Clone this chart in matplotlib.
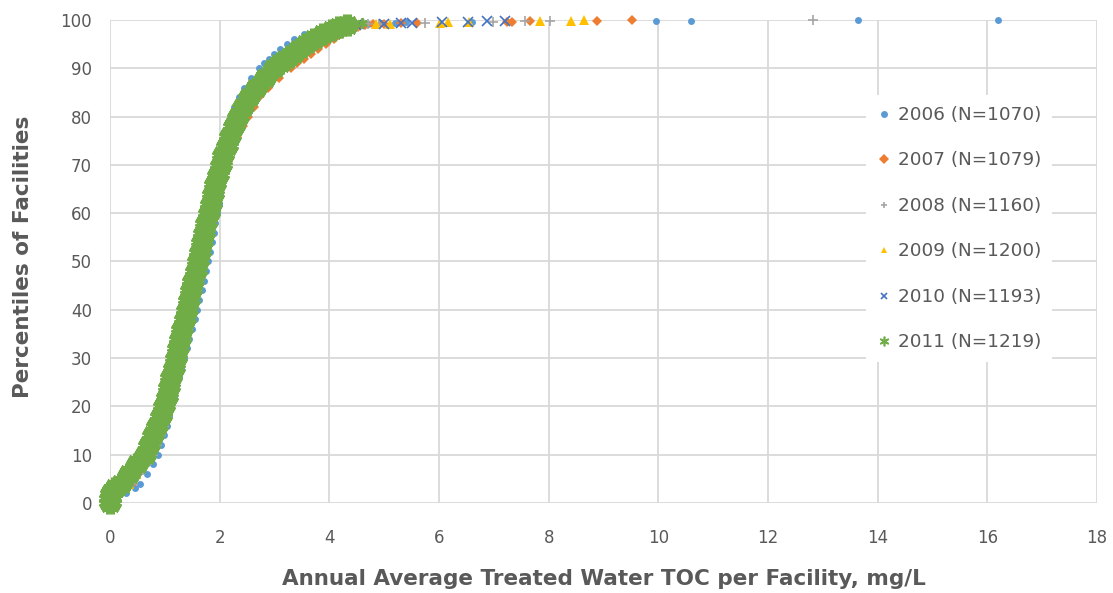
import matplotlib
matplotlib.use("Agg")
import matplotlib.pyplot as plt
from matplotlib.lines import Line2D

# percentile of facilities at which each TOC value is listed
PCT = [0, 1, 2, 3, 4, 6, 8, 10, 12, 14, 16, 18, 20, 22, 24, 26, 28, 30, 32, 34,
       36, 38, 40, 42, 44, 46, 48, 50, 52, 54, 56, 58, 60, 62, 64, 66, 68, 70,
       72, 74, 76, 78, 80, 82, 84, 86, 88, 90, 91, 92, 93, 94, 95, 96, 97, 98,
       98.5, 99]

# annual average treated water TOC (mg/L) at those percentiles
toc_2006 = [0.00, 0.10, 0.30, 0.45, 0.55, 0.68, 0.78, 0.87, 0.93, 0.99, 1.04, 1.08,
            1.12, 1.17, 1.21, 1.26, 1.30, 1.35, 1.40, 1.45, 1.50, 1.55, 1.59, 1.63,
            1.67, 1.71, 1.75, 1.79, 1.83, 1.86, 1.89, 1.92, 1.95, 1.98, 2.00, 2.03,
            2.05, 2.07, 2.10, 2.12, 2.14, 2.17, 2.20, 2.27, 2.35, 2.45, 2.57, 2.72,
            2.81, 2.90, 3.00, 3.10, 3.22, 3.36, 3.54, 3.80, 3.98, 4.22]
toc_2007 = [0.00, 0.05, 0.18, 0.30, 0.40, 0.52, 0.62, 0.72, 0.80, 0.87, 0.93, 0.99,
            1.05, 1.10, 1.14, 1.18, 1.22, 1.26, 1.30, 1.34, 1.38, 1.42, 1.46, 1.50,
            1.54, 1.58, 1.62, 1.66, 1.70, 1.74, 1.78, 1.82, 1.86, 1.90, 1.94, 1.99,
            2.04, 2.09, 2.15, 2.22, 2.31, 2.42, 2.52, 2.62, 2.72, 2.88, 3.08, 3.30,
            3.42, 3.54, 3.66, 3.80, 3.94, 4.08, 4.24, 4.40, 4.52, 4.66]
toc_2008 = [0.00, 0.06, 0.18, 0.32, 0.42, 0.55, 0.67, 0.78, 0.86, 0.93, 0.99, 1.04,
            1.09, 1.14, 1.18, 1.22, 1.26, 1.30, 1.34, 1.38, 1.42, 1.46, 1.50, 1.54,
            1.58, 1.62, 1.66, 1.70, 1.73, 1.77, 1.80, 1.84, 1.87, 1.91, 1.95, 1.99,
            2.03, 2.07, 2.12, 2.17, 2.23, 2.30, 2.38, 2.47, 2.57, 2.69, 2.84, 3.02,
            3.13, 3.25, 3.37, 3.49, 3.62, 3.78, 3.95, 4.15, 4.30, 4.50]
toc_2009 = [0.00, 0.03, 0.12, 0.24, 0.34, 0.48, 0.60, 0.70, 0.78, 0.85, 0.92, 0.98,
            1.04, 1.09, 1.13, 1.17, 1.21, 1.25, 1.29, 1.33, 1.37, 1.41, 1.45, 1.49,
            1.53, 1.57, 1.61, 1.65, 1.69, 1.73, 1.77, 1.81, 1.85, 1.89, 1.93, 1.98,
            2.03, 2.10, 2.14, 2.19, 2.25, 2.32, 2.40, 2.49, 2.59, 2.71, 2.86, 3.04,
            3.14, 3.25, 3.37, 3.49, 3.62, 3.77, 3.93, 4.12, 4.26, 4.45]
toc_2010 = [0.00, 0.02, 0.10, 0.20, 0.30, 0.44, 0.56, 0.67, 0.75, 0.82, 0.89, 0.95,
            1.01, 1.06, 1.10, 1.14, 1.18, 1.22, 1.26, 1.30, 1.34, 1.38, 1.42, 1.46,
            1.50, 1.54, 1.58, 1.62, 1.66, 1.70, 1.74, 1.78, 1.82, 1.86, 1.90, 1.94,
            1.99, 2.04, 2.09, 2.15, 2.21, 2.28, 2.36, 2.45, 2.55, 2.67, 2.82, 3.00,
            3.10, 3.21, 3.33, 3.46, 3.60, 3.75, 3.92, 4.12, 4.28, 4.48]
toc_2011 = [0.00, 0.00, 0.02, 0.10, 0.20, 0.35, 0.50, 0.63, 0.71, 0.79, 0.86, 0.93,
            0.99, 1.04, 1.08, 1.12, 1.16, 1.20, 1.24, 1.28, 1.32, 1.36, 1.40, 1.44,
            1.48, 1.52, 1.56, 1.60, 1.64, 1.68, 1.72, 1.76, 1.80, 1.84, 1.88, 1.92,
            1.97, 2.02, 2.07, 2.13, 2.19, 2.26, 2.34, 2.43, 2.54, 2.66, 2.82, 3.00,
            3.10, 3.21, 3.33, 3.45, 3.58, 3.72, 3.88, 4.05, 4.18, 4.32]

# highest facilities of each year (TOC, percentile)
tail_2006_x = [4.50, 4.70, 4.95, 5.20, 5.40, 6.60, 9.95, 10.60, 13.65, 16.20]
tail_2006_y = [99.1, 99.2, 99.3, 99.4, 99.5, 99.6, 99.7, 99.8, 99.9, 100.0]
tail_2007_x = [4.80, 5.00, 5.30, 5.60, 7.24, 7.33, 7.66, 8.88, 9.52]
tail_2007_y = [99.1, 99.2, 99.3, 99.4, 99.5, 99.6, 99.7, 99.8, 99.9]
tail_2008_x = [4.70, 4.90, 5.74, 6.99, 7.57, 8.02, 12.82]
tail_2008_y = [99.1, 99.2, 99.4, 99.6, 99.7, 99.8, 99.9]
tail_2009_x = [4.85, 5.10, 6.02, 6.17, 6.55, 7.84, 8.40, 8.64]
tail_2009_y = [99.1, 99.2, 99.4, 99.5, 99.6, 99.7, 99.8, 99.9]
tail_2010_x = [4.55, 5.00, 5.30, 5.50, 6.05, 6.53, 6.87, 7.20]
tail_2010_y = [99.1, 99.2, 99.3, 99.4, 99.5, 99.6, 99.7, 99.8]
tail_2011_x = [4.45, 4.60]
tail_2011_y = [99.2, 99.4]

labels = ["2006 (N=1070)", "2007 (N=1079)", "2008 (N=1160)",
          "2009 (N=1200)", "2010 (N=1193)", "2011 (N=1219)"]
colors = ["#5B9BD5", "#ED7D31", "#A5A5A5", "#FFC000", "#4472C4", "#70AD47"]
star = (6, 2, 0)  # x with a vertical bar
styles = [
    dict(marker="o", ms=5.0, mew=0),
    dict(marker="D", ms=5.0, mew=0),
    dict(marker="+", ms=7.5, mew=1.2),
    dict(marker="^", ms=7.0, mew=0),
    dict(marker="x", ms=6.5, mew=1.2),
    dict(marker=star, ms=15.5, mew=6.5),
]
bodies = [toc_2006, toc_2007, toc_2008, toc_2009, toc_2010, toc_2011]
tails = [(tail_2006_x, tail_2006_y), (tail_2007_x, tail_2007_y),
         (tail_2008_x, tail_2008_y), (tail_2009_x, tail_2009_y),
         (tail_2010_x, tail_2010_y), (tail_2011_x, tail_2011_y)]

txt = "#595959"
fig = plt.figure(figsize=(11.13, 5.93), dpi=100)
ax = fig.add_axes([0.0988, 0.1518, 0.8868, 0.8145])

for body, (tx, ty), c, st in zip(bodies, tails, colors, styles):
    ax.plot(body, PCT, ls="none", color=c, mec=c, mfc=c, clip_on=False, **st)
    ax.plot(tx, ty, ls="none", color=c, mec=c, mfc=c, clip_on=False,
            marker=st["marker"], ms=min(st["ms"], 7.5), mew=min(st["mew"], 1.6))

ax.set_xlim(0, 18)
ax.set_ylim(0, 100)
ax.set_xticks(range(0, 19, 2))
ax.set_yticks(range(0, 101, 10))
ax.grid(True, color="#D9D9D9", lw=1.3)
ax.set_axisbelow(True)
for s in ax.spines.values():
    s.set_visible(False)
ax.tick_params(length=0, labelsize=12, labelcolor=txt)
ax.tick_params(axis="y", pad=13)
ax.tick_params(axis="x", pad=19)

ax.set_xlabel("Annual Average Treated Water TOC per Facility, mg/L",
              fontsize=15.5, fontweight="bold", color=txt)
ax.xaxis.set_label_coords(0.5, -0.136)
ax.set_ylabel("Percentiles of Facilities", fontsize=15.5, fontweight="bold", color=txt)
ax.yaxis.set_label_coords(-0.078, 0.509)

handles = []
for c, st in zip(colors, styles):
    handles.append(Line2D([], [], ls="none", color=c, mec=c, mfc=c,
                          marker=st["marker"], ms=5 if st["marker"] != star else 7,
                          mew=min(st["mew"], 1.2)))
leg = ax.legend(handles, labels, loc="upper left", bbox_to_anchor=(0.766, 0.8447),
                frameon=True, fancybox=False, facecolor="white", edgecolor="none",
                framealpha=1, fontsize=13.2, labelspacing=1.5, handlelength=0.8,
                handletextpad=0.35, borderpad=0.6, borderaxespad=0)
for t in leg.get_texts():
    t.set_color(txt)

fig.savefig("out.png", dpi=100)
